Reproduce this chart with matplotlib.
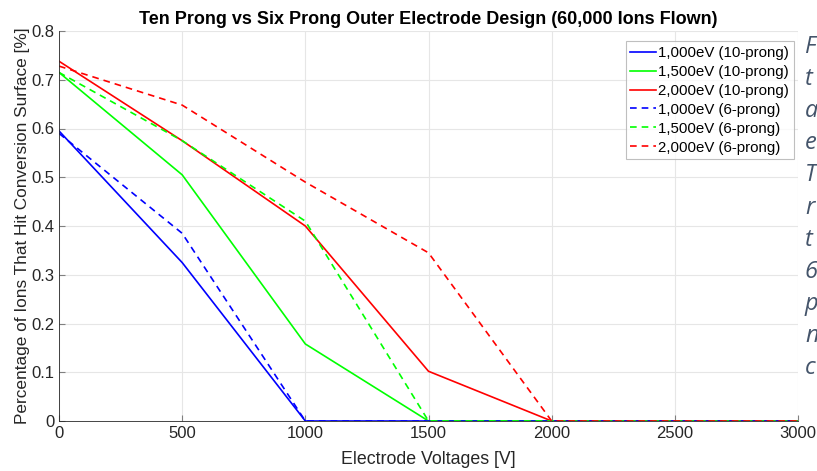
import matplotlib.pyplot as plt

plt.rcParams["font.family"] = ["Liberation Sans", "DejaVu Sans"]

voltages = [0, 500, 1000, 1500, 2000, 2500, 3000]

ten_1000 = [0.595, 0.325, 0.0, 0.0, 0.0, 0.0, 0.0]
ten_1500 = [0.715, 0.505, 0.158, 0.0, 0.0, 0.0, 0.0]
ten_2000 = [0.738, 0.575, 0.400, 0.102, 0.0, 0.0, 0.0]
six_1000 = [0.590, 0.385, 0.0, 0.0, 0.0, 0.0, 0.0]
six_1500 = [0.715, 0.575, 0.410, 0.0, 0.0, 0.0, 0.0]
six_2000 = [0.728, 0.648, 0.490, 0.345, 0.0, 0.0, 0.0]

side_text = ["F", "t", "a", "e", "T", "r", "t", "6", "p", "n", "c"]

fig = plt.figure(figsize=(8.17, 4.71), dpi=100)
ax = fig.add_axes([59 / 817, 50 / 471, 739 / 817, 390 / 471])

ax.plot(voltages, ten_1000, color="#0000ff", lw=1.2, label="1,000eV (10-prong)")
ax.plot(voltages, ten_1500, color="#00ff00", lw=1.2, label="1,500eV (10-prong)")
ax.plot(voltages, ten_2000, color="#ff0000", lw=1.2, label="2,000eV (10-prong)")
ax.plot(voltages, six_1000, color="#0000ff", lw=1.2, ls=(0, (4, 3)), label="1,000eV (6-prong)")
ax.plot(voltages, six_1500, color="#00ff00", lw=1.2, ls=(0, (4, 3)), label="1,500eV (6-prong)")
ax.plot(voltages, six_2000, color="#ff0000", lw=1.2, ls=(0, (4, 3)), label="2,000eV (6-prong)")

ax.set_xlim(0, 3000)
ax.set_ylim(0, 0.8)
ax.set_xticks([0, 500, 1000, 1500, 2000, 2500, 3000])
ax.set_yticks([0, 0.1, 0.2, 0.3, 0.4, 0.5, 0.6, 0.7, 0.8])
ax.set_yticklabels(["0", "0.1", "0.2", "0.3", "0.4", "0.5", "0.6", "0.7", "0.8"])
ax.grid(True, color="#e6e6e6", lw=0.8)
ax.set_axisbelow(True)
for s in ["top", "right"]:
    ax.spines[s].set_visible(False)
for s in ["left", "bottom"]:
    ax.spines[s].set_color("#262626")
    ax.spines[s].set_linewidth(0.6)
ax.tick_params(direction="in", length=4, color="#808080", labelsize=12, labelcolor="#262626")

ax.set_xlabel("Electrode Voltages [V]", fontsize=12.8, color="#262626", labelpad=7)
ax.set_ylabel("Percentage of Ions That Hit Conversion Surface [%]", fontsize=12.4,
              color="#262626", labelpad=1)
ax.set_title("Ten Prong vs Six Prong Outer Electrode Design (60,000 Ions Flown)",
             fontsize=13, fontweight="bold", pad=5)

leg = ax.legend(loc="upper right", bbox_to_anchor=(1.0, 0.985), fontsize=10.8,
                frameon=True, fancybox=False, handlelength=1.7, handletextpad=0.15,
                borderpad=0.3, labelspacing=0.33, borderaxespad=0.3)
leg.get_frame().set_edgecolor("#b0b0b0")
leg.get_frame().set_linewidth(0.8)

for i, t in enumerate(side_text):
    fig.text(805 / 817, 1 - (47 + i * 32.1) / 471, t, fontsize=17, style="italic",
             family="Open Sans", color="#44546a", va="center", ha="left")

fig.savefig("out.png", dpi=100)
